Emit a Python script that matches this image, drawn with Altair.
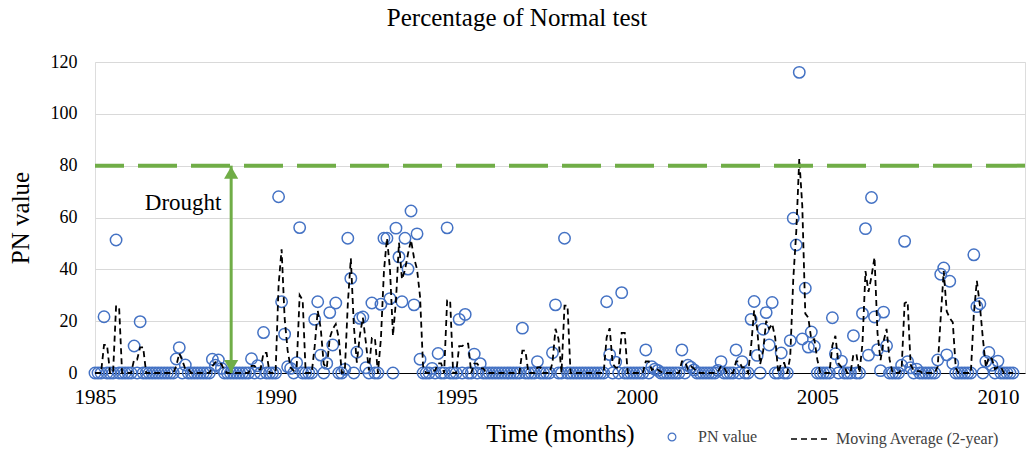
import altair as alt
import pandas as pd

FONT = "Liberation Serif"
title_text = "Percentage of Normal test"
x_title = "Time (months)"
y_title = "PN value"
series_points = "PN value"
series_ma = "Moving Average (2-year)"
start_year = 1985
x_ticks = [1985, 1990, 1995, 2000, 2005, 2010]
y_ticks = [0, 20, 40, 60, 80, 100, 120]
threshold = 80
annotation = "Drought"
arrow_year = 1988.77
text_year = 1987.44
text_value = 65.6

# monthly PN values, Jan 1985 .. Jun 2010 (one row per year)
pn_values = [
    0, 0, 0, 21.7, 0, 0, 0, 51.3, 0, 0, 0, 0,                 # 1985
    0, 10.4, 0, 19.8, 0, 0, 0, 0, 0, 0, 0, 0,                 # 1986
    0, 0, 0, 5.4, 9.8, 0, 3.1, 0, 0, 0, 0, 0,                 # 1987
    0, 0, 0, 5.3, 3.0, 5.0, 1.8, 0, 0, 0, 0, 0,               # 1988
    0, 0, 0, 0, 5.5, 0, 2.8, 0, 15.6, 0, 0, 0,                # 1989
    0, 68.0, 27.5, 15.0, 2.4, 1.8, 0, 4.0, 56.1, 0, 0, 0,     # 1990
    0, 20.7, 27.5, 6.9, 0, 3.7, 23.3, 10.8, 27.0, 0, 0, 1.4,  # 1991
    52.0, 36.5, 0, 8.0, 21.1, 21.6, 2.0, 0, 27.0, 0, 0, 26.5, # 1992
    52.0, 52.0, 28.7, 0, 55.9, 44.8, 27.5, 52.0, 40.1, 62.5, 26.3, 53.7,  # 1993
    5.3, 0, 0, 0, 1.8, 0, 7.5, 0, 0, 56.0, 0, 0,              # 1994
    0, 20.7, 0, 22.6, 0, 0, 7.3, 0, 3.6, 0, 0, 0,             # 1995
    0, 0, 0, 0, 0, 0, 0, 0, 0, 0, 17.3, 0,                    # 1996
    0, 0, 0, 4.4, 0, 0, 0, 0, 7.8, 26.3, 0, 0,                # 1997
    52.0, 0, 0, 0, 0, 0, 0, 0, 0, 0, 0, 0,                    # 1998
    0, 0, 27.5, 7.1, 0, 4.2, 0, 31.0, 0, 0, 0, 0,             # 1999
    0, 0, 0, 8.9, 0, 2.4, 1.5, 1.0, 0, 0, 0, 0,               # 2000
    0, 0, 0, 8.9, 0, 3.0, 2.2, 1.2, 0, 0, 0, 0,               # 2001
    0, 0, 0, 1.0, 4.4, 0, 0, 0, 0, 8.9, 0, 4.4,               # 2002
    0, 0, 20.7, 27.6, 6.8, 0, 16.9, 23.3, 10.8, 27.2, 0, 0,   # 2003
    7.7, 0, 0, 12.5, 59.7, 49.4, 116.0, 13.1, 32.7, 10.0, 15.8, 10.3,  # 2004
    0, 0, 0, 0, 0, 21.3, 7.4, 0, 4.6, 0, 0, 0,                # 2005
    14.4, 0, 0, 23.0, 55.7, 6.9, 67.7, 21.6, 9.0, 0.9, 23.5, 10.5,  # 2006
    0, 0, 0, 0, 3.0, 50.8, 4.4, 2.0, 0, 1.5, 0, 0,            # 2007
    0, 0, 0, 0, 5.0, 38.1, 40.5, 7.0, 35.4, 3.7, 0, 0,        # 2008
    0, 0, 0, 0, 45.6, 25.6, 26.7, 0, 4.5, 7.9, 3.0, 0,        # 2009
    4.6, 0, 0, 0, 0, 0,                                       # 2010
]

df = pd.DataFrame({
    "t": [start_year + i / 12 for i in range(len(pn_values))],
    "pn": pn_values,
    "s1": series_points,
    "s2": series_ma,
})
thr_df = pd.DataFrame({"pn": [threshold]})
arrow_df = pd.DataFrame({"t": [arrow_year], "pn": [0], "pn2": [threshold]})
top_df = pd.DataFrame({"t": [arrow_year], "pn": [threshold]})
bot_df = pd.DataFrame({"t": [arrow_year], "pn": [0]})
text_df = pd.DataFrame({"t": [text_year], "pn": [text_value], "label": [annotation]})

GREEN = "#70AD47"
BLUE = "#4472C4"

xscale = alt.Scale(domain=[1985, 2010.75], nice=False, zero=False)
yscale = alt.Scale(domain=[0, 120], nice=False)

x_axis = alt.Axis(values=x_ticks, format="d", grid=False, ticks=False,
                  domainColor="#000000", domainWidth=1, labelFlush=False,
                  labelOverlap=False,
                  labelFont=FONT, labelFontSize=21, labelColor="#000000",
                  labelPadding=13, title=x_title, titleFont=FONT,
                  titleFontSize=25, titleFontWeight="normal", titleColor="#000000",
                  titlePadding=14)
y_axis = alt.Axis(values=y_ticks, grid=True, gridColor="#d9d9d9", gridWidth=1,
                  ticks=False, domain=False, labelFont=FONT, labelFontSize=18,
                  labelColor="#000000", labelPadding=18, labelFlush=False,
                  title=y_title,
                  titleFont=FONT, titleFontSize=25, titleFontWeight="normal",
                  titleColor="#000000", titlePadding=17)


def X(field="t"):
    return alt.X(f"{field}:Q", scale=xscale, axis=x_axis)


def Y(field="pn"):
    return alt.Y(f"{field}:Q", scale=yscale, axis=y_axis)


points = alt.Chart(df).mark_point(
    shape="circle", filled=False, size=130, strokeWidth=1.5, opacity=1
).encode(
    x=X(), y=Y(),
    color=alt.Color("s1:N", scale=alt.Scale(domain=[series_points], range=[BLUE]),
                    legend=alt.Legend(orient="none", legendX=569, legendY=367,
                                      title=None, direction="horizontal",
                                      labelFont=FONT, labelFontSize=16, labelLimit=0,
                                      labelColor="#404040", symbolSize=60,
                                      symbolStrokeWidth=1.2, labelOffset=18)),
)

ma = alt.Chart(df).transform_window(
    ma="mean(pn)", frame=[-1, 0], sort=[alt.SortField("t")]
).mark_line(color="#000000", strokeWidth=1.8).encode(
    x=X(), y=Y("ma"),
    strokeDash=alt.StrokeDash("s2:N",
                              scale=alt.Scale(domain=[series_ma], range=[[6, 4]]),
                              legend=alt.Legend(orient="none", legendX=695, legendY=356,
                                                title=None, direction="horizontal",
                                                labelFont=FONT, labelFontSize=16,
                                                labelLimit=0,
                                                labelColor="#404040", symbolType="stroke",
                                                symbolStrokeColor="#000000",
                                                symbolSize=1600, symbolStrokeWidth=1.5,
                                                labelOffset=4)),
)

thr = alt.Chart(thr_df).mark_rule(color=GREEN, strokeWidth=4, strokeDash=[39, 14]).encode(
    y=Y()
)

arrow = alt.Chart(arrow_df).mark_rule(color=GREEN, strokeWidth=3).encode(
    x=X(), y=Y(), y2="pn2:Q"
)
head_top = alt.Chart(top_df).mark_point(
    shape="triangle-up", filled=True, size=200, color=GREEN, opacity=1, yOffset=7
).encode(x=X(), y=Y())
head_bot = alt.Chart(bot_df).mark_point(
    shape="triangle-down", filled=True, size=200, color=GREEN, opacity=1, yOffset=-7
).encode(x=X(), y=Y())

txt = alt.Chart(text_df).mark_text(font=FONT, fontSize=23, color="#000000", align="center",
                                   baseline="middle").encode(
    x=X(), y=Y(), text="label:N"
)

chart = alt.layer(points, ma, thr, arrow, head_top, head_bot, txt).properties(
    width=930, height=311,
    padding={"left": 95, "top": 62, "right": 5, "bottom": 82},
    autosize=alt.AutoSizeParams(type="none"),
    title=alt.TitleParams(title_text, font=FONT, fontSize=25, fontWeight="normal",
                          color="#000000", anchor="middle", dx=-43, offset=22),
).configure_view(stroke=None).configure(background="white")

chart.save("out.html", embed_options={"renderer": "svg", "actions": False})
